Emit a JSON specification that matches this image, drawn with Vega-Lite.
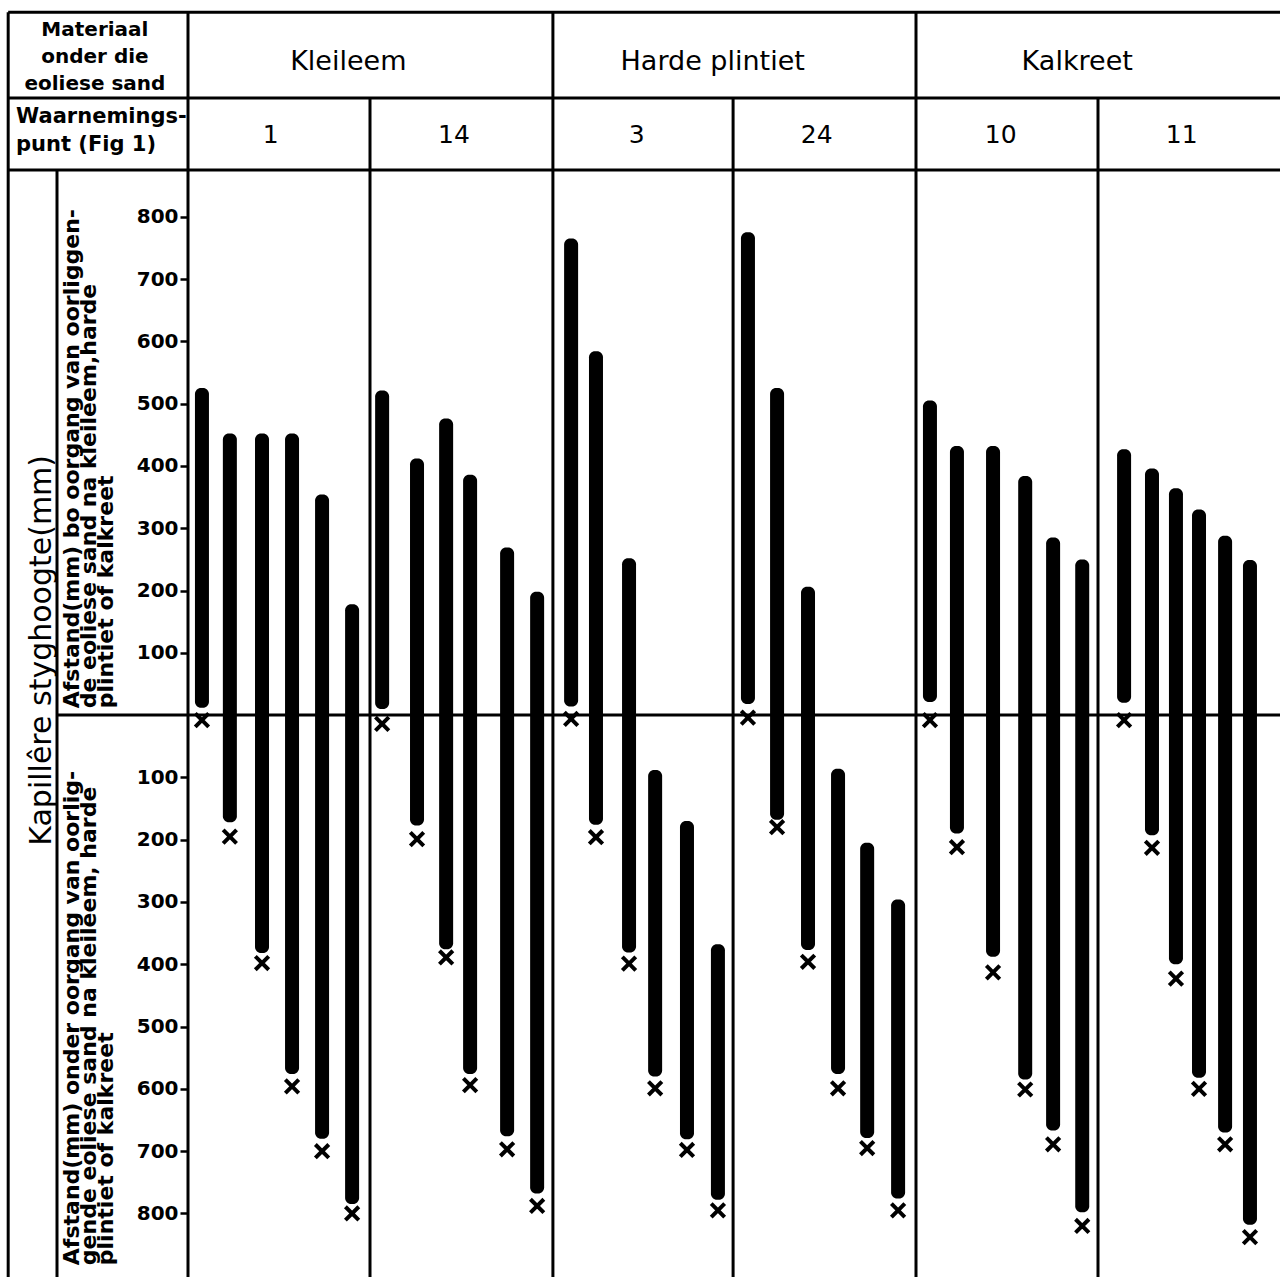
{
  "$schema": "https://vega.github.io/schema/vega-lite/v6.json",
  "padding": 0,
  "spacing": 0,
  "bounds": "flush",
  "background": "white",
  "config": {"view": {"stroke": null}, "font": "DejaVu Sans", "concat": {"spacing": 0}},
  "datasets": {
    "bars": [
      {"material": "Kleileem", "point": "1", "pos": 0.46, "top": 525, "bottom": 12, "mark": -8},
      {"material": "Kleileem", "point": "1", "pos": 1.38, "top": 452, "bottom": -172, "mark": -195},
      {"material": "Kleileem", "point": "1", "pos": 2.44, "top": 452, "bottom": -382, "mark": -398},
      {"material": "Kleileem", "point": "1", "pos": 3.43, "top": 452, "bottom": -576, "mark": -596},
      {"material": "Kleileem", "point": "1", "pos": 4.42, "top": 354, "bottom": -680, "mark": -700},
      {"material": "Kleileem", "point": "1", "pos": 5.41, "top": 178, "bottom": -785, "mark": -800},
      {"material": "Kleileem", "point": "14", "pos": 6.40, "top": 521, "bottom": 10, "mark": -14},
      {"material": "Kleileem", "point": "14", "pos": 7.55, "top": 412, "bottom": -177, "mark": -199},
      {"material": "Kleileem", "point": "14", "pos": 8.51, "top": 476, "bottom": -376, "mark": -389},
      {"material": "Kleileem", "point": "14", "pos": 9.30, "top": 386, "bottom": -576, "mark": -594},
      {"material": "Kleileem", "point": "14", "pos": 10.52, "top": 269, "bottom": -676, "mark": -697},
      {"material": "Kleileem", "point": "14", "pos": 11.51, "top": 198, "bottom": -768, "mark": -788},
      {"material": "Harde plintiet", "point": "3", "pos": 12.63, "top": 765, "bottom": 14, "mark": -6},
      {"material": "Harde plintiet", "point": "3", "pos": 13.45, "top": 584, "bottom": -176, "mark": -196},
      {"material": "Harde plintiet", "point": "3", "pos": 14.54, "top": 252, "bottom": -381, "mark": -399},
      {"material": "Harde plintiet", "point": "3", "pos": 15.40, "top": -88, "bottom": -580, "mark": -599},
      {"material": "Harde plintiet", "point": "3", "pos": 16.45, "top": -170, "bottom": -681, "mark": -698},
      {"material": "Harde plintiet", "point": "3", "pos": 17.47, "top": -368, "bottom": -778, "mark": -795},
      {"material": "Harde plintiet", "point": "24", "pos": 18.46, "top": 775, "bottom": 18, "mark": -4},
      {"material": "Harde plintiet", "point": "24", "pos": 19.42, "top": 525, "bottom": -168, "mark": -180},
      {"material": "Harde plintiet", "point": "24", "pos": 20.44, "top": 206, "bottom": -377, "mark": -396},
      {"material": "Harde plintiet", "point": "24", "pos": 21.43, "top": -86, "bottom": -576, "mark": -599},
      {"material": "Harde plintiet", "point": "24", "pos": 22.39, "top": -205, "bottom": -679, "mark": -695},
      {"material": "Harde plintiet", "point": "24", "pos": 23.41, "top": -296, "bottom": -776, "mark": -795},
      {"material": "Kalkreet", "point": "10", "pos": 24.46, "top": 505, "bottom": 21, "mark": -8},
      {"material": "Kalkreet", "point": "10", "pos": 25.35, "top": 432, "bottom": -190, "mark": -212},
      {"material": "Kalkreet", "point": "10", "pos": 26.54, "top": 432, "bottom": -388, "mark": -413},
      {"material": "Kalkreet", "point": "10", "pos": 27.60, "top": 384, "bottom": -585, "mark": -601},
      {"material": "Kalkreet", "point": "10", "pos": 28.52, "top": 285, "bottom": -667, "mark": -689},
      {"material": "Kalkreet", "point": "10", "pos": 29.48, "top": 250, "bottom": -798, "mark": -820},
      {"material": "Kalkreet", "point": "11", "pos": 30.86, "top": 427, "bottom": 20, "mark": -8},
      {"material": "Kalkreet", "point": "11", "pos": 31.78, "top": 396, "bottom": -193, "mark": -213},
      {"material": "Kalkreet", "point": "11", "pos": 32.57, "top": 364, "bottom": -400, "mark": -423},
      {"material": "Kalkreet", "point": "11", "pos": 33.33, "top": 330, "bottom": -582, "mark": -600},
      {"material": "Kalkreet", "point": "11", "pos": 34.19, "top": 288, "bottom": -670, "mark": -689},
      {"material": "Kalkreet", "point": "11", "pos": 35.01, "top": 249, "bottom": -818, "mark": -838}
    ]
  },
  "hconcat": [
    {
      "width": 188,
      "height": 1277,
      "data": {"values": [{}]},
      "layer": [
        {
          "mark": {"type": "rule", "color": "black", "strokeWidth": 3},
          "encoding": {
            "x": {"datum": -5.93, "type": "quantitative", "scale": {"domain": [-6.2, 0], "nice": false, "zero": false, "padding": 0}, "axis": null},
            "x2": {"datum": 0},
            "y": {"datum": 1128.5, "type": "quantitative", "scale": {"domain": [-902, 1148], "nice": false, "zero": false, "padding": 0}, "axis": null}
          }
        },
        {
          "mark": {"type": "rule", "color": "black", "strokeWidth": 3},
          "encoding": {"x": {"datum": -5.93, "type": "quantitative", "axis": null}, "x2": {"datum": 0}, "y": {"datum": 990.5, "type": "quantitative", "axis": null}}
        },
        {
          "mark": {"type": "rule", "color": "black", "strokeWidth": 3},
          "encoding": {"x": {"datum": -5.93, "type": "quantitative", "axis": null}, "x2": {"datum": 0}, "y": {"datum": 874.9, "type": "quantitative", "axis": null}}
        },
        {
          "mark": {"type": "rule", "color": "black", "strokeWidth": 3},
          "encoding": {"x": {"datum": -4.32, "type": "quantitative", "axis": null}, "x2": {"datum": 0}, "y": {"datum": 0, "type": "quantitative", "axis": null}}
        },
        {
          "mark": {"type": "rule", "color": "black", "strokeWidth": 3},
          "encoding": {"x": {"datum": -5.93, "type": "quantitative", "axis": null}, "y": {"datum": -902, "type": "quantitative", "axis": null}, "y2": {"datum": 1128.5}}
        },
        {
          "mark": {"type": "rule", "color": "black", "strokeWidth": 3},
          "encoding": {"x": {"datum": -4.32, "type": "quantitative", "axis": null}, "y": {"datum": -902, "type": "quantitative", "axis": null}, "y2": {"datum": 874.9}}
        },
        {
          "mark": {"type": "text", "text": ["Materiaal", "onder die", "eoliese sand"], "font": "DejaVu Sans", "fontWeight": "bold", "fontSize": 20, "lineHeight": 27, "align": "center", "baseline": "middle", "color": "black"},
          "encoding": {"x": {"datum": -3.07, "type": "quantitative", "axis": null}, "y": {"datum": 1099.7, "type": "quantitative", "axis": null}}
        },
        {
          "mark": {"type": "text", "text": ["Waarnemings-", "punt (Fig 1)"], "font": "DejaVu Sans", "fontWeight": "bold", "fontSize": 21, "lineHeight": 28, "align": "left", "baseline": "middle", "color": "black"},
          "encoding": {"x": {"datum": -5.67, "type": "quantitative", "axis": null}, "y": {"datum": 960, "type": "quantitative", "axis": null}}
        },
        {
          "mark": {"type": "text", "text": "Kapillêre styghoogte(mm)", "font": "DejaVu Sans", "fontSize": 30, "angle": 270, "align": "center", "baseline": "middle", "color": "black"},
          "encoding": {"x": {"datum": -4.81, "type": "quantitative", "axis": null}, "y": {"datum": 104, "type": "quantitative", "axis": null}}
        },
        {
          "mark": {"type": "text", "text": ["Afstand(mm) bo oorgang van oorliggen-", "de eoliese sand na kleileem,harde", "plintiet of kalkreet"], "font": "DejaVu Sans", "fontWeight": "bold", "fontSize": 22, "lineHeight": 17, "angle": 270, "align": "left", "baseline": "top", "color": "black"},
          "encoding": {"x": {"datum": -4.14, "type": "quantitative", "axis": null}, "y": {"datum": 11, "type": "quantitative", "axis": null}}
        },
        {
          "mark": {"type": "text", "text": ["Afstand(mm) onder oorgang van oorlig-", "gende eoliese sand na kleileem, harde", "plintiet of kalkreet"], "font": "DejaVu Sans", "fontWeight": "bold", "fontSize": 22, "lineHeight": 17, "angle": 270, "align": "left", "baseline": "top", "color": "black"},
          "encoding": {"x": {"datum": -4.14, "type": "quantitative", "axis": null}, "y": {"datum": -883, "type": "quantitative", "axis": null}}
        }
      ]
    },
    {
      "width": 1092,
      "height": 1277,
      "data": {"name": "bars"},
      "layer": [
        {
          "mark": {"type": "bar", "color": "black", "size": 14, "cornerRadius": 6, "orient": "vertical"},
          "encoding": {
            "x": {"field": "pos", "type": "quantitative", "scale": {"domain": [0, 36], "nice": false, "zero": false, "padding": 0}, "axis": null},
            "y": {
              "field": "top", "type": "quantitative", "title": null,
              "scale": {"domain": [-902, 1148], "nice": false, "zero": false, "padding": 0},
              "axis": {
                "orient": "left", "title": null, "domain": false, "grid": false, "zindex": 2,
                "values": [800, 700, 600, 500, 400, 300, 200, 100, -100, -200, -300, -400, -500, -600, -700, -800],
                "labelExpr": "format(abs(datum.value), 'd')",
                "tickSize": 8, "tickWidth": 2.5, "tickColor": "black",
                "labelFont": "DejaVu Sans", "labelFontWeight": "bold", "labelFontSize": 20, "labelColor": "black",
                "labelPadding": 2, "labelOverlap": false, "labelFlush": false
              }
            },
            "y2": {"field": "bottom"}
          }
        },
        {
          "mark": {"type": "point", "shape": "M-1,-1L1,1M1,-1L-1,1", "filled": false, "stroke": "black", "strokeWidth": 4, "size": 180, "opacity": 1},
          "encoding": {
            "x": {"field": "pos", "type": "quantitative", "axis": null},
            "y": {"field": "mark", "type": "quantitative", "title": null}
          }
        },
        {
          "data": {"values": [{}]},
          "mark": {"type": "rule", "color": "black", "strokeWidth": 3},
          "encoding": {"x": {"datum": 0, "type": "quantitative", "axis": null}, "x2": {"datum": 36}, "y": {"datum": 1128.5, "type": "quantitative", "title": null}}
        },
        {
          "data": {"values": [{}]},
          "mark": {"type": "rule", "color": "black", "strokeWidth": 3},
          "encoding": {"x": {"datum": 0, "type": "quantitative", "axis": null}, "x2": {"datum": 36}, "y": {"datum": 990.5, "type": "quantitative", "title": null}}
        },
        {
          "data": {"values": [{}]},
          "mark": {"type": "rule", "color": "black", "strokeWidth": 3},
          "encoding": {"x": {"datum": 0, "type": "quantitative", "axis": null}, "x2": {"datum": 36}, "y": {"datum": 874.9, "type": "quantitative", "title": null}}
        },
        {
          "data": {"values": [{}]},
          "mark": {"type": "rule", "color": "black", "strokeWidth": 3},
          "encoding": {"x": {"datum": 0, "type": "quantitative", "axis": null}, "x2": {"datum": 36}, "y": {"datum": 0, "type": "quantitative", "title": null}}
        },
        {
          "data": {"values": [{}]},
          "mark": {"type": "rule", "color": "black", "strokeWidth": 3},
          "encoding": {"x": {"datum": 0, "type": "quantitative", "axis": null}, "y": {"datum": -902, "type": "quantitative", "title": null}, "y2": {"datum": 1128.5}}
        },
        {
          "data": {"values": [{}]},
          "mark": {"type": "rule", "color": "black", "strokeWidth": 3},
          "encoding": {"x": {"datum": 6, "type": "quantitative", "axis": null}, "y": {"datum": -902, "type": "quantitative", "title": null}, "y2": {"datum": 990.5}}
        },
        {
          "data": {"values": [{}]},
          "mark": {"type": "rule", "color": "black", "strokeWidth": 3},
          "encoding": {"x": {"datum": 12.03, "type": "quantitative", "axis": null}, "y": {"datum": -902, "type": "quantitative", "title": null}, "y2": {"datum": 1128.5}}
        },
        {
          "data": {"values": [{}]},
          "mark": {"type": "rule", "color": "black", "strokeWidth": 3},
          "encoding": {"x": {"datum": 17.97, "type": "quantitative", "axis": null}, "y": {"datum": -902, "type": "quantitative", "title": null}, "y2": {"datum": 990.5}}
        },
        {
          "data": {"values": [{}]},
          "mark": {"type": "rule", "color": "black", "strokeWidth": 3},
          "encoding": {"x": {"datum": 24, "type": "quantitative", "axis": null}, "y": {"datum": -902, "type": "quantitative", "title": null}, "y2": {"datum": 1128.5}}
        },
        {
          "data": {"values": [{}]},
          "mark": {"type": "rule", "color": "black", "strokeWidth": 3},
          "encoding": {"x": {"datum": 30, "type": "quantitative", "axis": null}, "y": {"datum": -902, "type": "quantitative", "title": null}, "y2": {"datum": 990.5}}
        },
        {
          "transform": [{"aggregate": [{"op": "mean", "field": "pos", "as": "center"}], "groupby": ["material"]}],
          "mark": {"type": "text", "font": "DejaVu Sans", "fontSize": 27, "dx": -20, "color": "black", "align": "center", "baseline": "middle"},
          "encoding": {
            "x": {"field": "center", "type": "quantitative", "axis": null},
            "y": {"datum": 1048, "type": "quantitative", "title": null},
            "text": {"field": "material"}
          }
        },
        {
          "transform": [{"aggregate": [{"op": "mean", "field": "pos", "as": "center"}], "groupby": ["point"]}],
          "mark": {"type": "text", "font": "DejaVu Sans", "fontSize": 25, "dx": -6, "color": "black", "align": "center", "baseline": "middle"},
          "encoding": {
            "x": {"field": "center", "type": "quantitative", "axis": null},
            "y": {"datum": 931, "type": "quantitative", "title": null},
            "text": {"field": "point"}
          }
        }
      ]
    }
  ]
}
